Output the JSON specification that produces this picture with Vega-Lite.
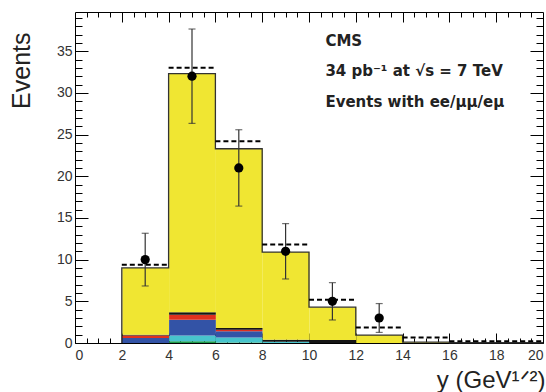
{
  "$schema": "https://vega.github.io/schema/vega-lite/v6.json",
  "width": 468,
  "height": 331,
  "autosize": "none",
  "padding": {"left": 75, "top": 12, "right": 3, "bottom": 49},
  "background": "white",
  "config": {
    "view": {"stroke": "black", "strokeWidth": 1},
    "axis": {
      "grid": false, "domain": false, "zindex": 1,
      "labelFont": "Liberation Sans", "titleFont": "Liberation Sans",
      "labelFontSize": 14, "labelColor": "#333", "tickColor": "black", "tickWidth": 1,
      "titleFontWeight": "normal", "titleColor": "#222"
    }
  },
  "datasets": {
    "stack": [
      {"x0": 2, "x1": 4, "comp": "blue", "k": 2, "v": 0.6},
      {"x0": 2, "x1": 4, "comp": "red", "k": 3, "v": 0.3},
      {"x0": 2, "x1": 4, "comp": "black", "k": 4, "v": 0.1},
      {"x0": 2, "x1": 4, "comp": "yellow", "k": 5, "v": 8.0},
      {"x0": 4, "x1": 6, "comp": "green", "k": 0, "v": 0.2},
      {"x0": 4, "x1": 6, "comp": "cyan", "k": 1, "v": 0.7},
      {"x0": 4, "x1": 6, "comp": "blue", "k": 2, "v": 1.9},
      {"x0": 4, "x1": 6, "comp": "red", "k": 3, "v": 0.6},
      {"x0": 4, "x1": 6, "comp": "black", "k": 4, "v": 0.3},
      {"x0": 4, "x1": 6, "comp": "yellow", "k": 5, "v": 28.6},
      {"x0": 6, "x1": 8, "comp": "green", "k": 0, "v": 0.05},
      {"x0": 6, "x1": 8, "comp": "cyan", "k": 1, "v": 0.6},
      {"x0": 6, "x1": 8, "comp": "blue", "k": 2, "v": 0.75},
      {"x0": 6, "x1": 8, "comp": "red", "k": 3, "v": 0.2},
      {"x0": 6, "x1": 8, "comp": "black", "k": 4, "v": 0.2},
      {"x0": 6, "x1": 8, "comp": "yellow", "k": 5, "v": 21.5},
      {"x0": 8, "x1": 10, "comp": "cyan", "k": 1, "v": 0.15},
      {"x0": 8, "x1": 10, "comp": "black", "k": 4, "v": 0.25},
      {"x0": 8, "x1": 10, "comp": "yellow", "k": 5, "v": 10.5},
      {"x0": 10, "x1": 12, "comp": "black", "k": 4, "v": 0.35},
      {"x0": 10, "x1": 12, "comp": "yellow", "k": 5, "v": 3.95},
      {"x0": 12, "x1": 14, "comp": "yellow", "k": 5, "v": 0.95},
      {"x0": 14, "x1": 16, "comp": "yellow", "k": 5, "v": 0.1}
    ],
    "outline": [
      {"i": 0, "x": 2, "y": 0},
      {"i": 1, "x": 2, "y": 9.0},
      {"i": 2, "x": 4, "y": 32.3},
      {"i": 3, "x": 6, "y": 23.3},
      {"i": 4, "x": 8, "y": 10.9},
      {"i": 5, "x": 10, "y": 4.3},
      {"i": 6, "x": 12, "y": 0.95},
      {"i": 7, "x": 14, "y": 0.1},
      {"i": 8, "x": 16, "y": 0.03},
      {"i": 9, "x": 20, "y": 0.03}
    ],
    "dashed": [
      {"x0": 2, "x1": 4, "v": 9.4},
      {"x0": 4, "x1": 6, "v": 33.0},
      {"x0": 6, "x1": 8, "v": 24.2},
      {"x0": 8, "x1": 10, "v": 11.8},
      {"x0": 10, "x1": 12, "v": 5.2},
      {"x0": 12, "x1": 14, "v": 1.85},
      {"x0": 14, "x1": 16, "v": 0.65},
      {"x0": 16, "x1": 18, "v": 0.2},
      {"x0": 18, "x1": 20, "v": 0.2}
    ],
    "points": [
      {"x": 3, "n": 10, "lo": 6.84, "hi": 13.16},
      {"x": 5, "n": 32, "lo": 26.34, "hi": 37.66},
      {"x": 7, "n": 21, "lo": 16.42, "hi": 25.58},
      {"x": 9, "n": 11, "lo": 7.68, "hi": 14.32},
      {"x": 11, "n": 5, "lo": 2.76, "hi": 7.24},
      {"x": 13, "n": 3, "lo": 1.27, "hi": 4.73}
    ],
    "labels": [
      {"x": 10.7, "y": 36.2, "t": "CMS"},
      {"x": 10.7, "y": 32.6, "t": "34 pb⁻¹  at √s = 7 TeV"},
      {"x": 10.7, "y": 28.9, "t": "Events with ee/μμ/eμ"}
    ]
  },
  "layer": [
    {
      "data": {"name": "stack"},
      "mark": {"type": "bar", "binSpacing": 0},
      "encoding": {
        "x": {"field": "x0", "type": "quantitative", "bin": "binned",
          "scale": {"domain": [0, 20], "nice": false, "zero": false},
          "axis": {"orient": "bottom", "values": [0, 2, 4, 6, 8, 10, 12, 14, 16, 18, 20], "format": "d",
            "tickSize": -10, "labelPadding": 15, "title": "y (GeV¹ᐟ²)", "titleFontSize": 24,
            "titleAlign": "right", "titleBaseline": "alphabetic", "titleX": 470, "titleY": 44, "titleAngle": 0}},
        "x2": {"field": "x1"},
        "y": {"field": "v", "type": "quantitative", "stack": "zero",
          "scale": {"domain": [0, 39.7], "nice": false},
          "axis": {"orient": "left", "values": [0, 5, 10, 15, 20, 25, 30, 35], "tickSize": -13, "labelPadding": 16,
            "title": "Events", "titleFontSize": 25, "titleAngle": -90, "titleAlign": "right", "titleBaseline": "top",
            "titleX": -66, "titleY": 20}},
        "color": {"field": "comp", "type": "nominal",
          "scale": {"domain": ["green", "cyan", "blue", "red", "black", "yellow"],
            "range": ["#1f9a4a", "#48c4cc", "#3353a6", "#e0301e", "#151515", "#f0e632"]},
          "legend": null},
        "order": {"field": "k", "type": "quantitative"}
      }
    },
    {
      "data": {"name": "outline"},
      "mark": {"type": "line", "interpolate": "step-after", "color": "#333", "strokeWidth": 1.3},
      "encoding": {
        "x": {"field": "x", "type": "quantitative", "scale": {"domain": [0, 20], "nice": false},
          "axis": {"orient": "bottom", "values": [0.5,1,1.5,2,2.5,3,3.5,4,4.5,5,5.5,6,6.5,7,7.5,8,8.5,9,9.5,10,10.5,11,11.5,12,12.5,13,13.5,14,14.5,15,15.5,16,16.5,17,17.5,18,18.5,19,19.5],
            "tickSize": -5, "labels": false, "title": null}},
        "y": {"field": "y", "type": "quantitative", "scale": {"domain": [0, 39.7], "nice": false},
          "axis": {"orient": "left", "values": [1,2,3,4,6,7,8,9,11,12,13,14,16,17,18,19,21,22,23,24,26,27,28,29,31,32,33,34,36,37,38,39],
            "tickSize": -7, "labels": false, "title": null}},
        "order": {"field": "i", "type": "quantitative"}
      }
    },
    {
      "data": {"name": "dashed"},
      "mark": {"type": "rule", "color": "black", "strokeWidth": 2, "strokeDash": [5, 3]},
      "encoding": {
        "x": {"field": "x0", "type": "quantitative", "scale": {"domain": [0, 20], "nice": false},
          "axis": {"orient": "top", "values": [2, 4, 6, 8, 10, 12, 14, 16, 18], "tickSize": -10, "labels": false, "title": null}},
        "x2": {"field": "x1"},
        "y": {"field": "v", "type": "quantitative", "scale": {"domain": [0, 39.7], "nice": false},
          "axis": {"orient": "right", "values": [5, 10, 15, 20, 25, 30, 35], "tickSize": -13, "labels": false, "title": null}}
      }
    },
    {
      "data": {"name": "points"},
      "mark": {"type": "rule", "color": "#333", "strokeWidth": 1.2},
      "encoding": {
        "x": {"field": "x", "type": "quantitative", "scale": {"domain": [0, 20], "nice": false},
          "axis": {"orient": "top", "values": [0.5,1,1.5,2.5,3,3.5,4.5,5,5.5,6.5,7,7.5,8.5,9,9.5,10.5,11,11.5,12.5,13,13.5,14.5,15,15.5,16.5,17,17.5,18.5,19,19.5],
            "tickSize": -5, "labels": false, "title": null}},
        "y": {"field": "lo", "type": "quantitative", "scale": {"domain": [0, 39.7], "nice": false},
          "axis": {"orient": "right", "values": [1,2,3,4,6,7,8,9,11,12,13,14,16,17,18,19,21,22,23,24,26,27,28,29,31,32,33,34,36,37,38,39],
            "tickSize": -7, "labels": false, "title": null}},
        "y2": {"field": "hi"}
      }
    },
    {
      "data": {"name": "points"},
      "mark": {"type": "tick", "orient": "horizontal", "color": "#333", "size": 7, "thickness": 1.2},
      "encoding": {
        "x": {"field": "x", "type": "quantitative", "scale": {"domain": [0, 20], "nice": false}, "axis": null},
        "y": {"field": "lo", "type": "quantitative", "scale": {"domain": [0, 39.7], "nice": false}, "axis": null}
      }
    },
    {
      "data": {"name": "points"},
      "mark": {"type": "tick", "orient": "horizontal", "color": "#333", "size": 7, "thickness": 1.2},
      "encoding": {
        "x": {"field": "x", "type": "quantitative", "scale": {"domain": [0, 20], "nice": false}, "axis": null},
        "y": {"field": "hi", "type": "quantitative", "scale": {"domain": [0, 39.7], "nice": false}, "axis": null}
      }
    },
    {
      "data": {"name": "points"},
      "mark": {"type": "point", "filled": true, "color": "black", "size": 85, "opacity": 1},
      "encoding": {
        "x": {"field": "x", "type": "quantitative", "scale": {"domain": [0, 20], "nice": false}, "axis": null},
        "y": {"field": "n", "type": "quantitative", "scale": {"domain": [0, 39.7], "nice": false}, "axis": null}
      }
    },
    {
      "data": {"name": "labels"},
      "mark": {"type": "text", "align": "left", "baseline": "middle", "font": "DejaVu Sans", "fontWeight": "bold", "fontSize": 15, "color": "#222"},
      "encoding": {
        "x": {"field": "x", "type": "quantitative", "scale": {"domain": [0, 20], "nice": false}, "axis": null},
        "y": {"field": "y", "type": "quantitative", "scale": {"domain": [0, 39.7], "nice": false}, "axis": null},
        "text": {"field": "t"}
      }
    }
  ],
  "resolve": {"axis": {"x": "independent", "y": "independent"}}
}
